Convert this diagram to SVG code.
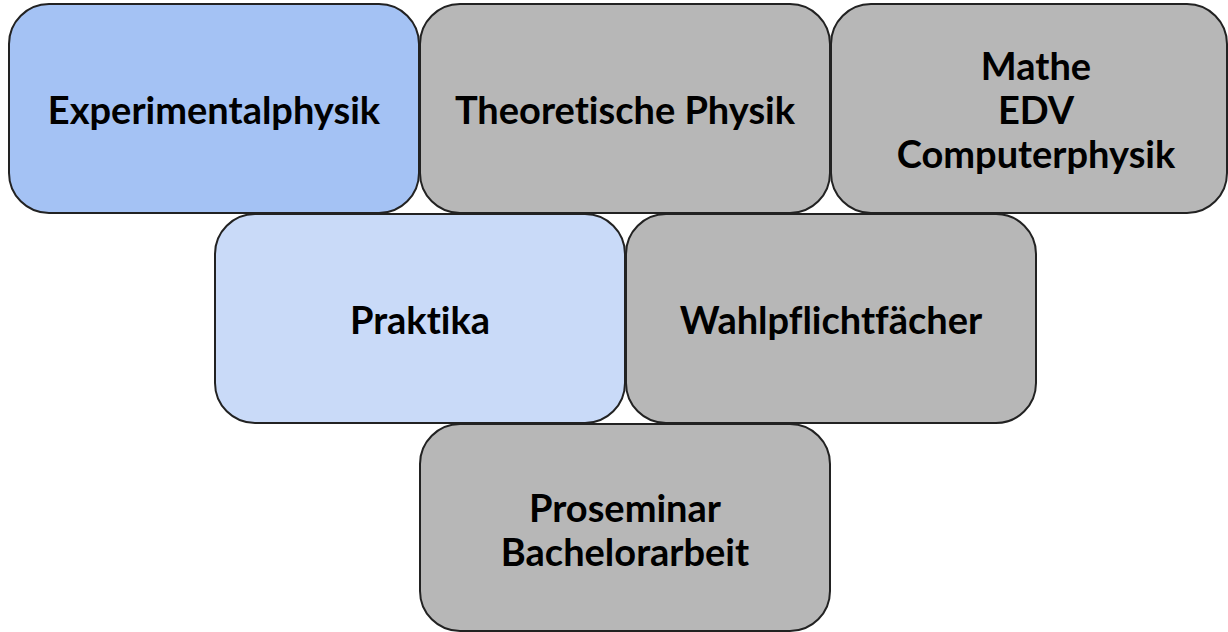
<svg xmlns="http://www.w3.org/2000/svg" width="1228" height="632" viewBox="0 0 1228 632">
<style>
.box{stroke:#222;stroke-width:2}
.blue{fill:#a4c2f4}
.lblue{fill:#c9daf8}
.gray{fill:#b7b7b7}
text{font-family:Lato,"Liberation Sans",sans-serif;font-weight:bold;font-size:38px;fill:#000;text-anchor:middle;font-variant-ligatures:none;font-feature-settings:"liga" 0,"dlig" 0}
</style>
<rect width="1228" height="632" fill="#fff"/>
<g id="experimentalphysik"><rect class="box blue" x="9" y="4" width="410" height="209" rx="40"/><text x="214" y="124">Experimentalphysik</text></g>
<g id="theoretische"><rect class="box gray" x="420" y="4" width="410" height="209" rx="40"/><text x="625" y="124">Theoretische Physik</text></g>
<g id="mathe"><rect class="box gray" x="831" y="4" width="396" height="209" rx="40"/><text x="1036" y="80">Mathe</text><text x="1036" y="124">EDV</text><text x="1036" y="168">Computerphysik</text></g>
<g id="praktika"><rect class="box lblue" x="215" y="214" width="410" height="209" rx="40"/><text x="420" y="334">Praktika</text></g>
<g id="wahlpflicht"><rect class="box gray" x="626" y="214" width="410" height="209" rx="40"/><text x="831" y="334">Wahlpflichtfächer</text></g>
<g id="proseminar"><rect class="box gray" x="420" y="424" width="410" height="207" rx="40"/><text x="625" y="522">Proseminar</text><text x="625" y="566">Bachelorarbeit</text></g>
<g id="connectors"></g>
</svg>
